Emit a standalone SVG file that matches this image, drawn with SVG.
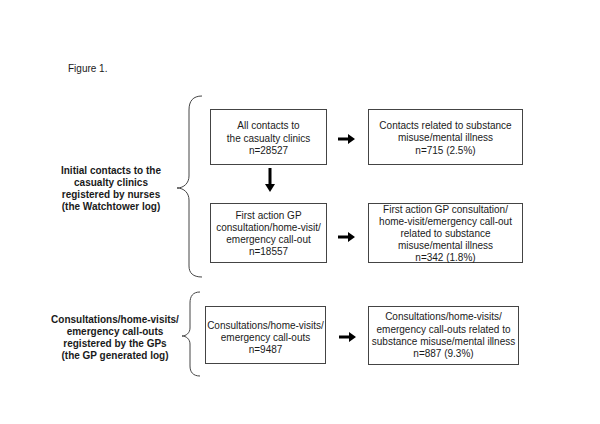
<svg xmlns="http://www.w3.org/2000/svg" width="600" height="424" viewBox="0 0 600 424">
<style>
text{font-family:"Liberation Sans",Arial,sans-serif;font-size:10px;fill:#1a1a1a;text-anchor:middle}
.lbl{font-weight:bold}
.box{fill:#fff;stroke:#444;stroke-width:1}
.brace{fill:none;stroke:#444;stroke-width:1}
.arr{fill:#000}
</style>
<rect width="600" height="424" fill="#fff"/>
<text x="68" y="71.5" style="text-anchor:start">Figure 1.</text>

<g id="label-watchtower">
<path class="brace" d="M202,96 C193,96 189,101 189,110 L189,176 C189,183 184,188 177,188 C184,188 189,193 189,200 L189,266 C189,273 193,277 202,277"/>
<text class="lbl" x="111" y="173.5">Initial contacts to the</text>
<text class="lbl" x="111" y="185.5">casualty clinics</text>
<text class="lbl" x="111" y="197.5">registered by nurses</text>
<text class="lbl" x="111" y="209.5">(the Watchtower log)</text>
</g>

<g id="label-gp">
<path class="brace" d="M200,292 C193,292 190,296 190,303 L190,328 C190,333 186,336 182,336 C186,336 190,339 190,344 L190,366 C190,372 193,376 200,376"/>
<text class="lbl" x="115" y="322.5">Consultations/home-visits/</text>
<text class="lbl" x="115" y="334.5">emergency call-outs</text>
<text class="lbl" x="115" y="346.5">registered by the GPs</text>
<text class="lbl" x="115" y="358.5">(the GP generated log)</text>
</g>

<g id="all-contacts">
<rect class="box" x="210.5" y="109.5" width="116" height="55"/>
<text x="268.5" y="129">All contacts to</text>
<text x="268.5" y="141.5">the casualty clinics</text>
<text x="268.5" y="154">n=28527</text>
</g>

<g id="contacts-related">
<rect class="box" x="368.5" y="109.5" width="154" height="55"/>
<text x="445.5" y="128.5">Contacts related to substance</text>
<text x="445.5" y="141">misuse/mental illness</text>
<text x="445.5" y="153.5">n=715 (2.5%)</text>
</g>

<g id="first-action">
<rect class="box" x="210.5" y="203.5" width="116" height="59"/>
<text x="268.5" y="218.5">First action GP</text>
<text x="268.5" y="230.5">consultation/home-visit/</text>
<text x="268.5" y="242.5">emergency call-out</text>
<text x="268.5" y="254.5">n=18557</text>
</g>

<g id="first-action-related">
<rect class="box" x="368.5" y="203.5" width="154" height="59"/>
<text x="445.5" y="212.5">First action GP consultation/</text>
<text x="445.5" y="224.5">home-visit/emergency call-out</text>
<text x="445.5" y="236.5">related to substance</text>
<text x="445.5" y="248.5">misuse/mental illness</text>
<text x="445.5" y="260.5">n=342 (1.8%)</text>
</g>

<g id="consultations">
<rect class="box" x="205.5" y="306.5" width="120" height="57"/>
<text x="265.5" y="328.5">Consultations/home-visits/</text>
<text x="265.5" y="340.5">emergency call-outs</text>
<text x="265.5" y="352.5">n=9487</text>
</g>

<g id="consultations-related">
<rect class="box" x="368.5" y="306.5" width="150" height="58"/>
<text x="443.5" y="320">Consultations/home-visits/</text>
<text x="443.5" y="332.5">emergency call-outs related to</text>
<text x="443.5" y="345">substance misuse/mental illness</text>
<text x="443.5" y="357">n=887 (9.3%)</text>
</g>

<g id="connectors">
<path class="arr" d="M268.5,168 h3 v16 h3.5 l-5,8 l-5,-8 h3.5 z"/>
<path class="arr" d="M338,137.5 h10 v-3.5 l7,5 l-7,5 v-3.5 h-10 z"/>
<path class="arr" d="M338,235.5 h10 v-3.5 l7,5 l-7,5 v-3.5 h-10 z"/>
<path class="arr" d="M339,335.5 h10 v-3.5 l7,5 l-7,5 v-3.5 h-10 z"/>
</g>
</svg>
